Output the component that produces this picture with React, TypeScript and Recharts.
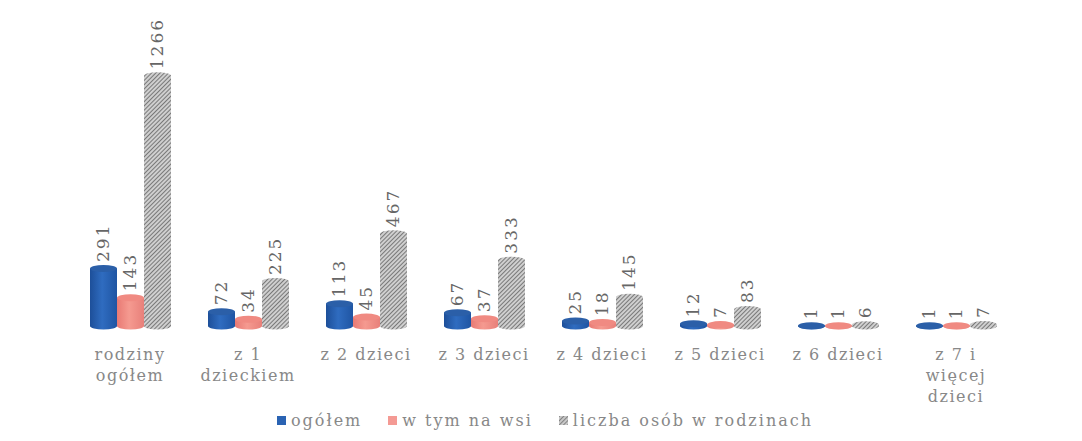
import React from "react";
import { BarChart, Bar, XAxis, YAxis, Legend, LabelList } from "recharts";

const categories = [
  "rodziny\nogółem",
  "z 1\ndzieckiem",
  "z 2 dzieci",
  "z 3 dzieci",
  "z 4 dzieci",
  "z 5 dzieci",
  "z 6 dzieci",
  "z 7 i\nwięcej\ndzieci",
];
const ogolem = [291, 72, 113, 67, 25, 12, 1, 1];
const naWsi = [143, 34, 45, 37, 18, 7, 1, 1];
const liczbaOsob = [1266, 225, 467, 333, 145, 83, 6, 7];

const seriesNames = ["ogółem", "w tym na wsi", "liczba osób w rodzinach"];

const rows = categories.map((c, i) => ({
  name: c,
  ogolem: ogolem[i],
  naWsi: naWsi[i],
  liczbaOsob: liczbaOsob[i],
}));

const FONT = "'DejaVu Serif', serif";
const RY = 3.5;

const Cylinder = (props: any) => {
  const { x, y, width, height, fill, top } = props;
  const rx = width / 2;
  const bottom = y + height;
  return (
    <g>
      <path
        d={`M${x},${y} L${x},${bottom} A${rx},${RY} 0 0 0 ${x + width},${bottom} L${x + width},${y} Z`}
        fill={fill}
      />
      <ellipse cx={x + rx} cy={y} rx={rx} ry={RY} fill={top} />
    </g>
  );
};

const ValueLabel = (props: any) => {
  const { x, y, width, value } = props;
  const cx = x + width / 2;
  const ty = y - RY - 3;
  return (
    <text
      x={cx}
      y={ty}
      transform={`rotate(-90 ${cx} ${ty})`}
      textAnchor="start"
      dominantBaseline="central"
      fontFamily={FONT}
      fontSize={17}
      letterSpacing={2}
      fill="#666"
    >
      {value}
    </text>
  );
};

const CategoryTick = (props: any) => {
  const { x, y, payload } = props;
  const lines = String(payload.value).split("\n");
  return (
    <text
      x={x}
      y={y + 26}
      textAnchor="middle"
      fontFamily={FONT}
      fontSize={16}
      letterSpacing={1.5}
      fill="#888"
    >
      {lines.map((l, i) => (
        <tspan key={i} x={x} dy={i === 0 ? 0 : 21}>
          {l}
        </tspan>
      ))}
    </text>
  );
};

const legendColors = ["#2a63b3", "#f49a94", ""];

const LegendContent = () => (
  <div
    style={{
      display: "flex",
      justifyContent: "center",
      gap: 26,
      fontFamily: FONT,
      fontSize: 16,
      letterSpacing: 2,
      color: "#888",
      paddingLeft: 4,
    }}
  >
    {seriesNames.map((n, i) => (
      <span key={n} style={{ display: "flex", alignItems: "center" }}>
        <svg width={9} height={9} style={{ marginRight: 5 }}>
          <defs>
            <pattern id={`lh${i}`} width={3} height={3} patternUnits="userSpaceOnUse" patternTransform="rotate(45)">
              <rect width={3} height={3} fill="#c8c8c8" />
              <line x1={0} y1={0} x2={0} y2={3} stroke="#555" strokeWidth={1.2} />
            </pattern>
          </defs>
          <rect width={9} height={9} fill={i === 2 ? `url(#lh${i})` : legendColors[i]} />
        </svg>
        {n}
      </span>
    ))}
  </div>
);

export default function App() {
  return (
    <BarChart
      width={1066}
      height={433}
      data={rows}
      barSize={27}
      barGap={0}
      margin={{ top: 61, right: 59, left: 63, bottom: 11 }}
      style={{ background: "#fff" }}
    >
      <defs>
        <pattern id="hatch" width={3} height={3} patternUnits="userSpaceOnUse" patternTransform="rotate(45)">
          <rect width={3} height={3} fill="#cfcfcf" />
          <line x1={0} y1={0} x2={0} y2={3} stroke="#4a4a4a" strokeWidth={1.3} />
        </pattern>
        <linearGradient id="blueBody" x1="0" y1="0" x2="1" y2="0">
          <stop offset="0%" stopColor="#1d4f99" />
          <stop offset="45%" stopColor="#2f6cc0" />
          <stop offset="100%" stopColor="#1f55a3" />
        </linearGradient>
        <linearGradient id="pinkBody" x1="0" y1="0" x2="1" y2="0">
          <stop offset="0%" stopColor="#e87a74" />
          <stop offset="45%" stopColor="#f59a90" />
          <stop offset="100%" stopColor="#e8807a" />
        </linearGradient>
      </defs>
      <XAxis
        dataKey="name"
        axisLine={false}
        tickLine={false}
        interval={0}
        height={85}
        tick={<CategoryTick />}
      />
      <YAxis hide domain={[0, 1300]} />
      <Legend verticalAlign="bottom" content={<LegendContent />} />
      <Bar
        dataKey="ogolem"
        name={seriesNames[0]}
        fill="url(#blueBody)"
        shape={<Cylinder top="#2b5fa8" />}
        isAnimationActive={false}
      >
        <LabelList dataKey="ogolem" content={<ValueLabel />} />
      </Bar>
      <Bar
        dataKey="naWsi"
        name={seriesNames[1]}
        fill="url(#pinkBody)"
        shape={<Cylinder top="#f08a82" />}
        isAnimationActive={false}
      >
        <LabelList dataKey="naWsi" content={<ValueLabel />} />
      </Bar>
      <Bar
        dataKey="liczbaOsob"
        name={seriesNames[2]}
        fill="url(#hatch)"
        shape={<Cylinder top="url(#hatch)" />}
        isAnimationActive={false}
      >
        <LabelList dataKey="liczbaOsob" content={<ValueLabel />} />
      </Bar>
    </BarChart>
  );
}
